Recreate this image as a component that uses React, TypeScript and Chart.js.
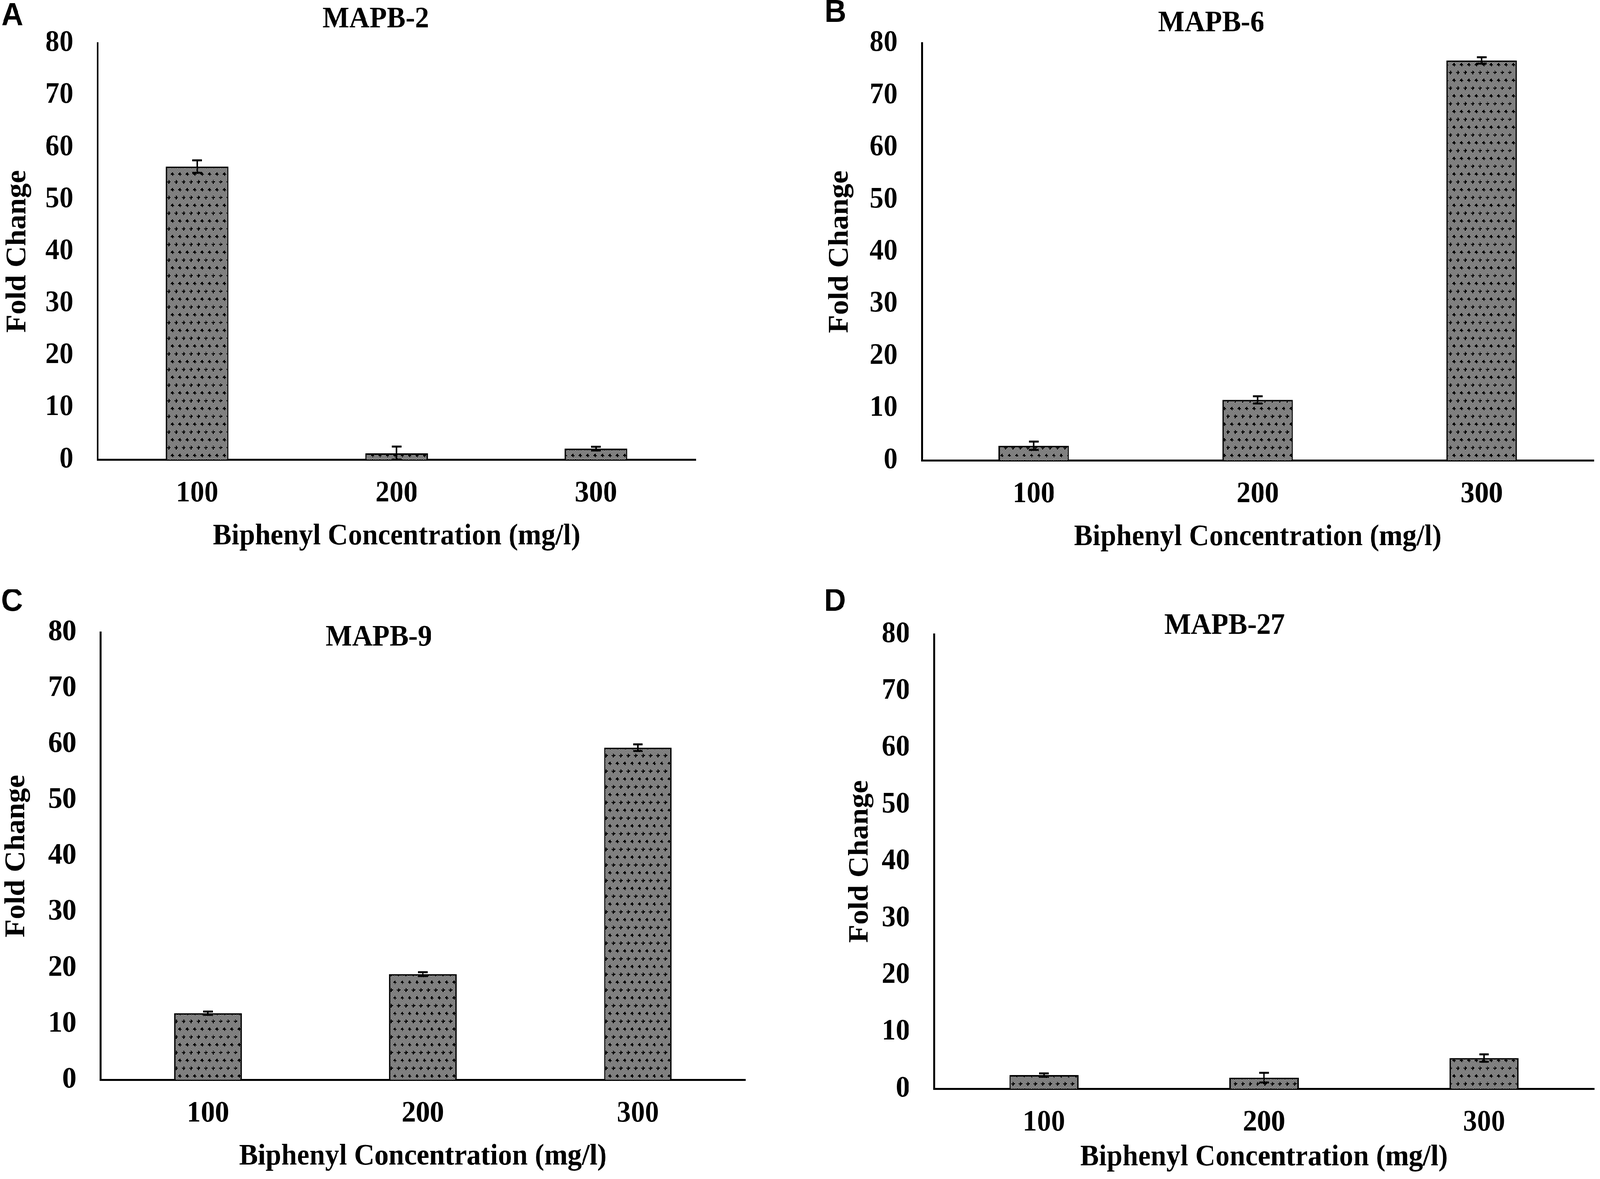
import React, { useEffect, useRef, useState } from "react";
import { Chart, registerables, Plugin } from "chart.js";

Chart.register(...registerables);

// Biphenyl concentration (mg/l), shared by all four panels
const concentrations = ["100", "200", "300"];
const foldTicks = [0, 10, 20, 30, 40, 50, 60, 70, 80];

// fold change
const mapb2Values = [56.3, 1.2, 2.1];
const mapb2Errors = [1.2, 1.3, 0.35];
const mapb6Values = [2.8, 11.6, 76.7];
const mapb6Errors = [0.8, 0.7, 0.6];
const mapb9Values = [11.9, 18.9, 59.4];
const mapb9Errors = [0.3, 0.35, 0.6];
const mapb27Values = [2.4, 1.95, 5.4];
const mapb27Errors = [0.3, 0.85, 0.65];

const SERIF = "'Liberation Serif', 'Times New Roman', serif";
const SANS = "'Liberation Sans', Arial, sans-serif";
const FONT_SIZE = 76;
const DESIGN_W = 4317;
const DESIGN_H = 3017;

interface PanelLayout {
  left: number;
  top: number;
  width: number;
  height: number;
  yWidth: number;
  padTop: number;
  padRight: number;
  padBottom: number;
  xHeight: number;
  yTitlePad: number;
  titleX: number;
  titleY: number;
  letterX: number;
  letterY: number;
}

interface PanelProps {
  letter: string;
  title: string;
  values: number[];
  errors: number[];
  layout: PanelLayout;
}

// grey stipple fill like the Excel "dotted" pattern
function makeDotPattern(ctx: CanvasRenderingContext2D): CanvasPattern | string {
  const tile = document.createElement("canvas");
  tile.width = 40;
  tile.height = 40;
  const t = tile.getContext("2d");
  if (!t) return "#888";
  t.fillStyle = "#f2f2f2";
  t.fillRect(0, 0, 40, 40);
  t.fillStyle = "#0d0d0d";
  for (let y = 0; y < 40; y += 2) {
    for (let x = 0; x < 40; x += 2) {
      if (((x + y) / 2) % 2 === 0) t.fillRect(x, y, 2, 2);
    }
  }
  t.fillStyle = "#000";
  const marks = [
    [5, 5],
    [25, 5],
    [15, 25],
    [35, 25],
  ];
  marks.forEach(([cx, cy]) => {
    t.fillRect(cx - 4, cy - 1, 9, 3);
    t.fillRect(cx - 1, cy - 4, 3, 9);
  });
  return ctx.createPattern(tile, "repeat") || "#888";
}

const errorBarsPlugin: Plugin<"bar"> = {
  id: "errorBars",
  afterDatasetsDraw(chart, _args, opts: any) {
    const errs: number[] = opts.errors || [];
    const values = chart.data.datasets[0].data as number[];
    const meta = chart.getDatasetMeta(0);
    const yScale = chart.scales.y;
    const ctx = chart.ctx;
    ctx.save();
    ctx.strokeStyle = "#000";
    meta.data.forEach((bar: any, i: number) => {
      const x = bar.x;
      const hi = yScale.getPixelForValue(values[i] + errs[i]);
      const lo = yScale.getPixelForValue(Math.max(0, values[i] - errs[i]));
      ctx.lineWidth = 4;
      ctx.beginPath();
      ctx.moveTo(x, hi);
      ctx.lineTo(x, lo);
      ctx.stroke();
      ctx.lineWidth = 5;
      ctx.beginPath();
      ctx.moveTo(x - 13, hi);
      ctx.lineTo(x + 13, hi);
      ctx.moveTo(x - 13, lo);
      ctx.lineTo(x + 13, lo);
      ctx.stroke();
    });
    ctx.restore();
  },
};

const panelTextPlugin: Plugin<"bar"> = {
  id: "panelText",
  afterDraw(chart, _args, opts: any) {
    const ctx = chart.ctx;
    ctx.save();
    ctx.fillStyle = "#000";
    ctx.textAlign = "center";
    ctx.textBaseline = "middle";
    ctx.font = `bold 82px ${SANS}`;
    ctx.fillText(opts.letter, opts.letterX, opts.letterY);
    ctx.font = `bold ${FONT_SIZE}px ${SERIF}`;
    ctx.fillText(opts.title, opts.titleX, opts.titleY);
    ctx.restore();
  },
};

const BarPanel: React.FC<PanelProps> = ({ letter, title, values, errors, layout }) => {
  const canvasRef = useRef<HTMLCanvasElement | null>(null);
  const chartRef = useRef<Chart | null>(null);

  useEffect(() => {
    if (chartRef.current) chartRef.current.destroy();
    const ctx = canvasRef.current?.getContext("2d");
    if (!ctx) return;

    const fill = makeDotPattern(ctx);
    const font = { family: SERIF, size: FONT_SIZE, weight: "bold" as const, lineHeight: 1.2 };

    chartRef.current = new Chart(ctx, {
      type: "bar",
      data: {
        labels: concentrations,
        datasets: [
          {
            data: values,
            backgroundColor: fill as any,
            borderColor: "#000",
            borderWidth: 4,
            categoryPercentage: 1,
            barPercentage: 0.315,
          },
        ],
      },
      options: {
        animation: false,
        responsive: true,
        maintainAspectRatio: false,
        devicePixelRatio: 1,
        layout: {
          padding: {
            left: 0,
            top: layout.padTop,
            right: layout.padRight,
            bottom: layout.padBottom,
          },
        },
        plugins: {
          legend: { display: false },
          tooltip: { enabled: false },
          errorBars: { errors },
          panelText: {
            letter,
            title,
            titleX: layout.titleX,
            titleY: layout.titleY,
            letterX: layout.letterX,
            letterY: layout.letterY,
          },
        } as any,
        scales: {
          x: {
            grid: { display: false, drawTicks: false },
            border: { display: true, color: "#000", width: 5 },
            ticks: { color: "#000", font, padding: 42 },
            title: {
              display: true,
              text: "Biphenyl Concentration (mg/l)",
              color: "#000",
              font,
              padding: { top: 0, bottom: 0 },
            },
            afterFit: (scale: any) => {
              scale.height = layout.xHeight;
            },
          },
          y: {
            min: 0,
            max: 80,
            grid: { display: false, drawTicks: false },
            border: { display: true, color: "#000", width: 5 },
            ticks: { color: "#000", font, padding: 65 },
            afterBuildTicks: (scale: any) => {
              scale.ticks = foldTicks.map((v) => ({ value: v }));
            },
            title: {
              display: true,
              text: "Fold Change",
              color: "#000",
              font,
              padding: { top: layout.yTitlePad, bottom: 0 },
            },
            afterFit: (scale: any) => {
              scale.width = layout.yWidth;
            },
          },
        },
      },
      plugins: [errorBarsPlugin, panelTextPlugin],
    });

    return () => {
      if (chartRef.current) chartRef.current.destroy();
      chartRef.current = null;
    };
  }, [letter, title, values, errors, layout]);

  return (
    <div
      style={{
        position: "absolute",
        left: layout.left,
        top: layout.top,
        width: layout.width,
        height: layout.height,
      }}
    >
      <canvas ref={canvasRef}></canvas>
    </div>
  );
};

const layoutA: PanelLayout = {
  left: 0, top: 0, width: 2158, height: 1508,
  yWidth: 263, padTop: 78, padRight: 281, padBottom: 89, xHeight: 243, yTitlePad: 3,
  titleX: 1014, titleY: 50, letterX: 33, letterY: 41,
};
const layoutB: PanelLayout = {
  left: 2158, top: 0, width: 2159, height: 1508,
  yWidth: 329, padTop: 60, padRight: 17, padBottom: 87, xHeight: 243, yTitlePad: 64,
  titleX: 1110, titleY: 60, letterX: 96, letterY: 33,
};
const layoutC: PanelLayout = {
  left: 0, top: 1508, width: 2158, height: 1509,
  yWidth: 271, padTop: 104, padRight: 147, padBottom: 11, xHeight: 243, yTitlePad: 0,
  titleX: 1022, titleY: 124, letterX: 32, letterY: 32,
};
const layoutD: PanelLayout = {
  left: 2158, top: 1508, width: 2159, height: 1509,
  yWidth: 362, padTop: 115, padRight: 16, padBottom: 9, xHeight: 222, yTitlePad: 118,
  titleX: 1146, titleY: 94, letterX: 95, letterY: 32,
};

const App: React.FC = () => {
  // the figure is laid out at 4317x3017 and fitted to whatever the viewport really is
  const [fit, setFit] = useState(() => ({
    sx: window.innerWidth / DESIGN_W,
    sy: window.innerHeight / DESIGN_H,
  }));

  useEffect(() => {
    document.body.style.margin = "0";
    document.body.style.overflow = "hidden";
    setFit({ sx: window.innerWidth / DESIGN_W, sy: window.innerHeight / DESIGN_H });
  }, []);

  return (
    <div
      style={{
        position: "absolute",
        left: 0,
        top: 0,
        width: DESIGN_W,
        height: DESIGN_H,
        background: "#fff",
        overflow: "hidden",
        transform: `scale(${fit.sx}, ${fit.sy})`,
        transformOrigin: "0 0",
      }}
    >
      <BarPanel letter="A" title="MAPB-2" values={mapb2Values} errors={mapb2Errors} layout={layoutA} />
      <BarPanel letter="B" title="MAPB-6" values={mapb6Values} errors={mapb6Errors} layout={layoutB} />
      <BarPanel letter="C" title="MAPB-9" values={mapb9Values} errors={mapb9Errors} layout={layoutC} />
      <BarPanel letter="D" title="MAPB-27" values={mapb27Values} errors={mapb27Errors} layout={layoutD} />
    </div>
  );
};

export default App;
